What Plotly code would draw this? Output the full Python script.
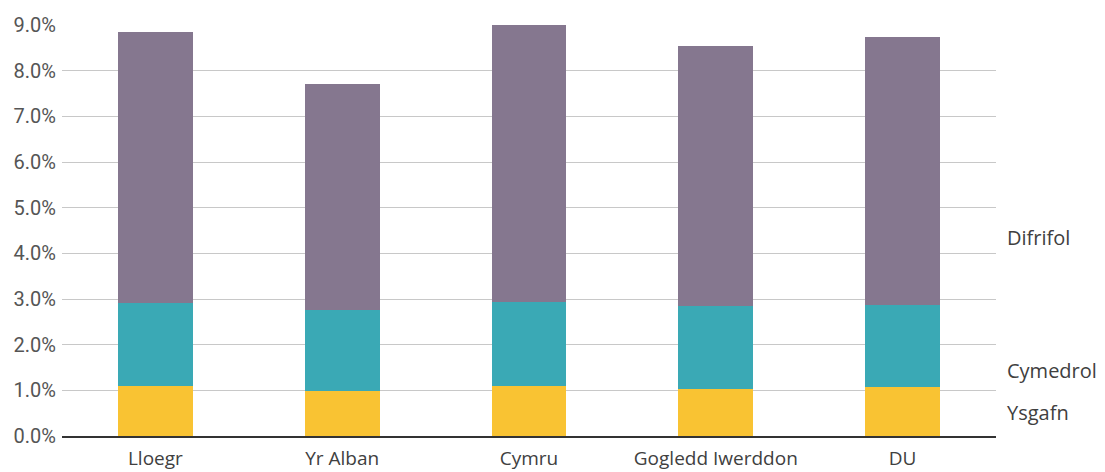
import plotly.graph_objects as go

categories = ['Lloegr', 'Yr Alban', 'Cymru', 'Gogledd Iwerddon', 'DU']
ysgafn = [1.10, 0.99, 1.10, 1.03, 1.07]
cymedrol = [1.81, 1.77, 1.84, 1.82, 1.80]
difrifol = [5.94, 4.95, 6.06, 5.68, 5.87]
yticks = [0, 1, 2, 3, 4, 5, 6, 7, 8, 9]
ytick_text = ['0.0%', '1.0%', '2.0%', '3.0%', '4.0%', '5.0%', '6.0%', '7.0%', '8.0%', '9.0%']

fig = go.Figure()
fig.add_trace(go.Bar(x=categories, y=ysgafn, name='Ysgafn', marker=dict(color='#f9c333', line=dict(width=0))))
fig.add_trace(go.Bar(x=categories, y=cymedrol, name='Cymedrol', marker=dict(color='#3aa9b5', line=dict(width=0))))
fig.add_trace(go.Bar(x=categories, y=difrifol, name='Difrifol', marker=dict(color='#85778f', line=dict(width=0))))

# page body has an 8px margin, so the figure is shrunk to fit the window
fig.update_layout(
    barmode='stack',
    bargap=0.6,
    width=1097, height=464,
    margin=dict(l=53.5, r=108.5, t=17, b=36, autoexpand=False),
    plot_bgcolor='white', paper_bgcolor='white',
    showlegend=False,
    font=dict(family='Open Sans', color='#404040'),
)
fig.update_xaxes(
    showline=True, linecolor='#333333', linewidth=2,
    tickfont=dict(size=19, color='#404040', family='Open Sans'),
    ticks='outside', ticklen=4, tickcolor='rgba(0,0,0,0)',
    automargin=False,
)
fig.update_yaxes(
    range=[0, 9], tickvals=yticks, ticktext=ytick_text,
    showgrid=True, gridcolor='#c8c8c8', gridwidth=1, zeroline=False,
    tickfont=dict(size=20, color='#555555', family='Roboto'),
    ticks='outside', ticklen=1, tickcolor='rgba(0,0,0,0)',
    automargin=False,
)

labels = [('Difrifol', 237), ('Cymedrol', 370), ('Ysgafn', 412)]
for txt, py in labels:
    fig.add_annotation(text=txt, xref='paper', yref='paper',
                       x=(1006 - 61.5) / 935, y=(436 - py) / 411,
                       xanchor='left', yanchor='middle', showarrow=False,
                       font=dict(size=20, color='#404040', family='Open Sans'))

fig.write_html('out.html')
